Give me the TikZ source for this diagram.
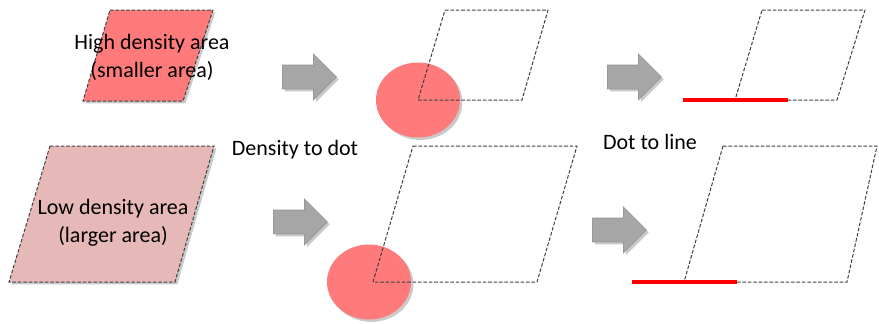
\documentclass[tikz,border=0pt]{standalone}
\usepackage{fontspec}
\setmainfont{Carlito}
\usetikzlibrary{shapes.arrows,shapes.geometric,shadows}
\definecolor{densered}{HTML}{FF7B7B}
\definecolor{sparsepink}{HTML}{E6B9B8}
\definecolor{pushgray}{HTML}{A6A6A6}
\begin{document}
\begin{tikzpicture}[x=0.5pt,y=-0.5pt,
  area/.style={draw=black!75, line width=0.5pt, dash pattern=on 1.8pt off 0.9pt},
  soft/.style={drop shadow={shadow xshift=1.2pt, shadow yshift=-1.2pt, opacity=0.35, fill=black!60}},
  blob/.style={ellipse, fill=densered, draw=none, minimum width=42pt, minimum height=37.5pt, inner sep=0pt, soft},
  push/.style={single arrow, anchor=tail, fill=pushgray, draw=black!40, line width=0.4pt,
    minimum height=27pt, text height=11.5pt, text depth=0pt, text width=0pt,
    single arrow head extend=5.5pt, inner sep=0pt, soft},
  caption/.style={font=\fontsize{11}{14}\selectfont, align=center, text=black},
  smear/.style={draw=red, line width=2pt}]
\useasboundingbox (0,0) rectangle (879,323);

% input areas
\draw[area, fill=densered, soft] (110,10) -- (213,10) -- (183,101) -- (83,101) -- cycle;
\node[caption] (high) at (152,57) {High density area\\(smaller area)};
\draw[area, fill=sparsepink, soft] (50,146) -- (214,146) -- (175,282) -- (9,282) -- cycle;
\node[caption] (low) at (113,223) {Low density area\\(larger area)};

% corners where dot and line sit
\coordinate (hdot) at (418,100);
\coordinate (ldot) at (373,282);
\coordinate (hline) at (735,100);
\coordinate (lline) at (684,282);

% density to dot
\node[push] (p1) at (282,77) {};
\node[push] (p2) at (273,222) {};
\node[caption] (todot) at (295,150) {Density to dot};
\node[blob] (dot1) at (hdot) {};
\node[blob] (dot2) at ([xshift=-2pt]ldot) {};
\draw[area] (445,10) -- (548,10) -- (522,100) -- (hdot) -- cycle;
\draw[area] (413,146) -- (577,146) -- (537,282) -- (ldot) -- cycle;

% dot to line
\node[push] (p3) at (607,77) {};
\node[push] (p4) at (592,230) {};
\node[caption] (toline) at (650,142) {Dot to line};
\draw[area] (762,10) -- (865,10) -- (837,100) -- (hline) -- cycle;
\draw[area] (723,146) -- (877,146) -- (847,282) -- (lline) -- cycle;
\draw[smear] ([xshift=-26.25pt]hline) -- ([xshift=26.25pt]hline);
\draw[smear] ([xshift=-26.25pt]lline) -- ([xshift=26.25pt]lline);
\end{tikzpicture}
\end{document}
